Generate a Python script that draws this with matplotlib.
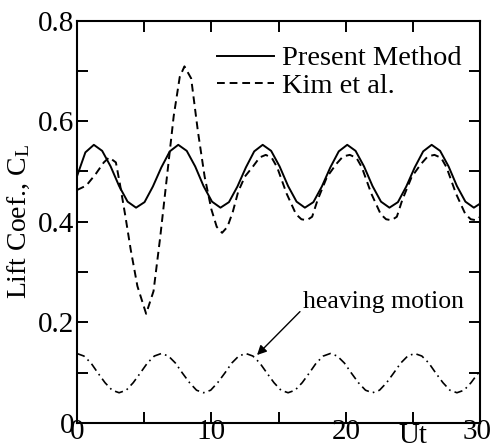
import matplotlib
matplotlib.use("Agg")
import matplotlib.pyplot as plt
import matplotlib.transforms as mtrans
from matplotlib.ticker import MultipleLocator

plt.rcParams['font.family'] = ['Liberation Serif', 'DejaVu Serif']
plt.rcParams['mathtext.fontset'] = 'custom'
plt.rcParams['mathtext.rm'] = 'Liberation Serif'
plt.rcParams['mathtext.it'] = 'Liberation Serif:italic'

# Present Method (lift coefficient)
t_present = [0.00, 0.63, 1.26, 1.88, 2.51, 3.14, 3.77, 4.40, 5.03, 5.65,
             6.28, 6.91, 7.54, 8.17, 8.80, 9.42, 10.05, 10.68, 11.31, 11.94,
             12.57, 13.19, 13.82, 14.45, 15.08, 15.71, 16.34, 16.96, 17.59, 18.22,
             18.85, 19.48, 20.11, 20.73, 21.36, 21.99, 22.62, 23.25, 23.88, 24.50,
             25.13, 25.76, 26.39, 27.02, 27.65, 28.27, 28.90, 29.53, 30.16]
cl_present = [0.490, 0.538, 0.553, 0.541, 0.510, 0.471, 0.440, 0.428, 0.439, 0.470,
              0.508, 0.540, 0.553, 0.541, 0.510, 0.471, 0.440, 0.428, 0.439, 0.470,
              0.508, 0.540, 0.553, 0.541, 0.510, 0.471, 0.440, 0.428, 0.439, 0.470,
              0.508, 0.540, 0.553, 0.541, 0.510, 0.471, 0.440, 0.428, 0.439, 0.470,
              0.508, 0.540, 0.553, 0.541, 0.510, 0.471, 0.440, 0.428, 0.439]

# Kim et al.
t_kim = [0.0, 0.7, 1.4, 2.0, 2.4, 2.9, 3.2, 3.6, 4.0, 4.5,
         5.15, 5.7, 6.2, 6.7, 7.2, 7.65, 8.0, 8.5, 9.0, 9.5,
         10.0, 10.4, 10.8, 11.2, 11.6, 12.0, 12.5, 13.1, 13.6, 14.05,
         14.5, 14.9, 15.6, 16.3, 16.7, 17.1, 17.5, 17.9, 18.6, 19.3,
         19.8, 20.3, 20.8, 21.2, 21.9, 22.6, 23.0, 23.4, 23.8, 24.2,
         24.9, 25.6, 26.1, 26.6, 27.1, 27.5, 28.2, 28.9, 29.3, 29.7, 30.0]
cl_kim = [0.463, 0.472, 0.495, 0.518, 0.528, 0.518, 0.475, 0.412, 0.345, 0.272,
          0.217, 0.262, 0.370, 0.490, 0.610, 0.688, 0.709, 0.685, 0.580, 0.490,
          0.425, 0.390, 0.378, 0.390, 0.420, 0.460, 0.490, 0.510, 0.528, 0.533,
          0.527, 0.508, 0.456, 0.415, 0.405, 0.403, 0.410, 0.443, 0.489, 0.515,
          0.530, 0.533, 0.527, 0.508, 0.456, 0.415, 0.405, 0.403, 0.410, 0.443,
          0.489, 0.515, 0.530, 0.533, 0.527, 0.508, 0.456, 0.415, 0.405, 0.403, 0.410]

# heaving motion
t_heave = [0.00, 0.52, 1.05, 1.57, 2.09, 2.62, 3.14, 3.67, 4.19, 4.71, 5.24, 5.76,
           6.28, 6.81, 7.33, 7.85, 8.38, 8.90, 9.42, 9.95, 10.47, 11.00, 11.52, 12.04,
           12.57, 13.09, 13.61, 14.14, 14.66, 15.18, 15.71, 16.23, 16.76, 17.28, 17.80, 18.33,
           18.85, 19.37, 19.90, 20.42, 20.94, 21.47, 21.99, 22.51, 23.04, 23.56, 24.09, 24.61,
           25.13, 25.66, 26.18, 26.70, 27.23, 27.75, 28.27, 28.80, 29.32, 29.85, 30.00]
y_heave = [0.138, 0.133, 0.119, 0.099, 0.080, 0.065, 0.060, 0.065, 0.080, 0.099, 0.119, 0.133,
           0.138, 0.133, 0.119, 0.099, 0.080, 0.065, 0.060, 0.065, 0.080, 0.099, 0.119, 0.133,
           0.138, 0.133, 0.119, 0.099, 0.080, 0.065, 0.060, 0.065, 0.080, 0.099, 0.119, 0.133,
           0.138, 0.133, 0.119, 0.099, 0.080, 0.065, 0.060, 0.065, 0.080, 0.099, 0.119, 0.133,
           0.138, 0.133, 0.119, 0.099, 0.080, 0.065, 0.060, 0.065, 0.080, 0.099, 0.105]

fig = plt.figure(figsize=(4.93, 4.48), dpi=100)
ax = fig.add_axes([0.156, 0.056, 0.818, 0.898])

ax.plot(t_present, cl_present, color='k', lw=1.4, label='Present Method')
ax.plot(t_kim, cl_kim, color='k', lw=1.4, dashes=(4, 2.5), label='Kim et al.')
ax.plot(t_heave, y_heave, color='k', lw=1.2, dashes=(5, 2.5, 1, 2.5))

ax.set_xlim(0, 30)
ax.set_ylim(0, 0.8)
ax.xaxis.set_minor_locator(MultipleLocator(5))
ax.yaxis.set_minor_locator(MultipleLocator(0.1))
ax.set_xticks([0, 10, 20, 30])
ax.set_xticklabels(['0', '10', '20', '30'])
ax.set_yticks([0, 0.2, 0.4, 0.6, 0.8])
ax.set_yticklabels(['0', '0.2', '0.4', '0.6', '0.8'])
ax.tick_params(which='both', direction='in', top=True, right=True,
               length=8, width=1.4, labelsize=21)
ax.tick_params(axis='y', pad=2)
ax.tick_params(axis='x', pad=-2.5)
for s in ax.spines.values():
    s.set_linewidth(1.5)

# nudge the last x label so it stays inside the figure
last = ax.get_xticklabels()[-1]
last.set_transform(last.get_transform() +
                   mtrans.ScaledTranslation(-3 / 100, 0, fig.dpi_scale_trans))

ax.set_ylabel('Lift Coef., C$_\\mathrm{L}$', fontsize=20, labelpad=4)
ax.text(25, 0.0, 'Ut', transform=ax.get_xaxis_transform(),
        ha='center', va='top', fontsize=21)

ax.legend(loc='upper right', bbox_to_anchor=(0.955, 0.938), frameon=False,
          fontsize=20.5, handlelength=2.0, handletextpad=0.3,
          labelspacing=0.05, borderpad=0, borderaxespad=0)

ax.annotate('heaving motion', xy=(13.4, 0.135), xytext=(16.8, 0.24),
            fontsize=18.5, ha='left', va='center',
            arrowprops=dict(arrowstyle='-|>', color='k', lw=1.0,
                            shrinkA=0, shrinkB=0, mutation_scale=14,
                            relpos=(0, 0.2)))

fig.savefig('out.png', dpi=100)
